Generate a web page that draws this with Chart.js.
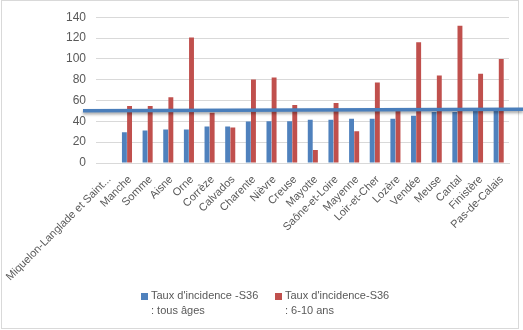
<!DOCTYPE html>
<html>
<head>
<meta charset="utf-8">
<script src="https://cdn.jsdelivr.net/npm/chart.js@4.4.0/dist/chart.umd.min.js"></script>
<style>
  body { margin: 0; background: #fff; }
  #wrap { position: relative; width: 523px; height: 330px; }
  #frame { position: absolute; left: 1px; top: 0; width: 518px; height: 329px; border: 1px solid #d9d9d9; box-sizing: border-box; }
  #myCanvas { position: absolute; left: 0; top: 0; }
  .leg { position: absolute; top: 288px; font: 11px "Liberation Sans", Arial, sans-serif; color: #595959; line-height: 15px; }
  .leg i { position: absolute; left: -10px; top: 5px; width: 7px; height: 7px; }
</style>
</head>
<body>
<div id="wrap">
  <div id="frame"></div>
  <canvas id="myCanvas" width="523" height="330"></canvas>
  <div class="leg" style="left:151px"><i style="background:#4f81bd"></i>Taux d'incidence -S36<br>: tous âges</div>
  <div class="leg" style="left:285px"><i style="background:#c0504d"></i>Taux d'incidence-S36<br>: 6-10 ans</div>
</div>
<script>
var departements = ['Miquelon-Langlade et Saint...', 'Manche', 'Somme', 'Aisne', 'Orne', 'Corrèze',
    'Calvados', 'Charente', 'Nièvre', 'Creuse', 'Mayotte', 'Saône-et-Loire', 'Mayenne',
    'Loir-et-Cher', 'Lozère', 'Vendée', 'Meuse', 'Cantal', 'Finistère', 'Pas-de-Calais'];
var tousAges = [0, 29.5, 31.3, 32.2, 32.2, 35, 35, 39.8, 40, 40, 41.6, 41.6, 42.6, 42.6, 42.6, 45.4, 49, 49, 51, 51];
var sixDixAns = [0, 54.8, 54.8, 63.2, 120.6, 48.2, 34.1, 80.2, 82, 55.7, 12.5, 57.6, 30.4, 77.3, 50, 115.9, 83.9, 131.9, 85.8, 99.9];
var yTicks = [0, 20, 40, 60, 80, 100, 120, 140];
// the hand drawn line over the chart, value at its left and right end
var seuil = [50.1, 51.7];

var seuilPlugin = {
    id: 'seuil',
    afterDatasetsDraw: function (chart) {
        var ctx = chart.ctx, y = chart.scales.y;
        var x0 = chart.chartArea.left - 13, x1 = chart.width;
        ctx.save();
        ctx.shadowColor = 'rgba(0,0,0,0.35)';
        ctx.shadowBlur = 3;
        ctx.shadowOffsetY = 2;
        ctx.strokeStyle = '#4a7ebb';
        ctx.lineWidth = 3.5;
        ctx.beginPath();
        ctx.moveTo(x0, y.getPixelForValue(seuil[0]));
        ctx.lineTo(x1, y.getPixelForValue(seuil[1]));
        ctx.stroke();
        ctx.restore();
    }
};

var ctx = document.getElementById('myCanvas').getContext('2d');
var myChart = new Chart(ctx, {
    type: 'bar',
    data: {
        labels: departements,
        datasets: [{
            label: "Taux d'incidence -S36 : tous âges",
            data: tousAges,
            backgroundColor: '#4f81bd'
        }, {
            label: "Taux d'incidence-S36 : 6-10 ans",
            data: sixDixAns,
            backgroundColor: '#c0504d'
        }]
    },
    options: {
        responsive: false,
        animation: false,
        layout: { padding: { top: 14, right: 14, left: 0, bottom: 0 } },
        datasets: { bar: { categoryPercentage: 0.5, barPercentage: 0.95 } },
        plugins: { legend: { display: false }, tooltip: { enabled: false } },
        scales: {
            x: {
                grid: { display: false },
                border: { color: '#d9d9d9' },
                ticks: {
                    color: '#595959', minRotation: 45, maxRotation: 45, autoSkip: false,
                    font: { family: 'Liberation Sans', size: 11 }, padding: 2, labelOffset: 3
                },
                afterFit: function (axis) { axis.height = 167; }
            },
            y: {
                min: 0, max: 140,
                afterBuildTicks: function (axis) { axis.ticks = yTicks.map(function (v) { return { value: v }; }); },
                grid: { color: '#d9d9d9', drawTicks: false },
                border: { display: false },
                ticks: { color: '#595959', font: { family: 'Liberation Sans', size: 12 }, padding: 10 },
                afterFit: function (axis) { axis.width = 96; }
            }
        }
    },
    plugins: [seuilPlugin]
});
</script>
</body>
</html>
